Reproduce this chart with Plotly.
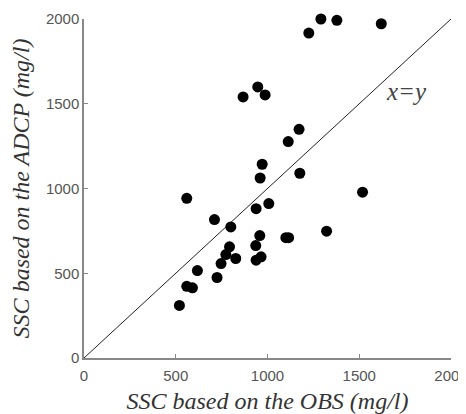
import plotly.graph_objects as go

obs = [1291, 1378, 1620, 1225, 947, 987, 867, 1172, 1113, 971, 960, 1176, 1518, 560,
       1007, 938, 711, 800, 958, 1100, 1115, 1322, 793, 936, 773, 827, 747, 938, 965,
       618, 725, 560, 591, 520]
adcp = [2000, 1992, 1972, 1917, 1599, 1552, 1540, 1349, 1277, 1143, 1062, 1090, 978, 942,
        911, 881, 817, 773, 722, 710, 710, 748, 656, 663, 610, 587, 557, 577, 597,
        516, 475, 423, 414, 310]
line_x = [0, 2000]
line_y = [0, 2000]
ticks = [0, 500, 1000, 1500, 2000]

fig = go.Figure()
fig.add_trace(go.Scatter(x=line_x, y=line_y, mode="lines",
                         line=dict(color="#222222", width=1), showlegend=False))
fig.add_trace(go.Scatter(x=obs, y=adcp, mode="markers", cliponaxis=False,
                         marker=dict(color="black", size=11), showlegend=False))
fig.add_annotation(x=1755, y=1575, text="x=y", showarrow=False,
                   font=dict(family="Liberation Serif", size=25, color="#444444",
                             style="italic"))

axis_common = dict(range=[0, 2000], tickvals=ticks, showgrid=False, zeroline=False,
                   showline=True, linecolor="#888888", linewidth=1.5, automargin=False,
                   ticks="inside", ticklen=4, tickcolor="#888888",
                   ticklabeloverflow="allow",
                   tickfont=dict(family="Liberation Sans", size=15, color="#555555"))
fig.update_xaxes(**axis_common, ticklabelstandoff=3,
                 title=dict(text="SSC based on the OBS (mg/l)", standoff=13,
                            font=dict(family="Liberation Serif", size=24, color="#333333",
                                      style="italic")))
fig.update_yaxes(**axis_common,
                 title=dict(text="SSC based on the ADCP (mg/l)", standoff=11,
                            font=dict(family="Liberation Serif", size=24, color="#333333",
                                      style="italic")))
# the page body has an 8px default margin, so the figure is sized to fit the window
fig.update_layout(width=458, height=406, plot_bgcolor="white", paper_bgcolor="white",
                  margin=dict(l=76, r=15, t=11, b=56))
fig.write_html("out.html")
